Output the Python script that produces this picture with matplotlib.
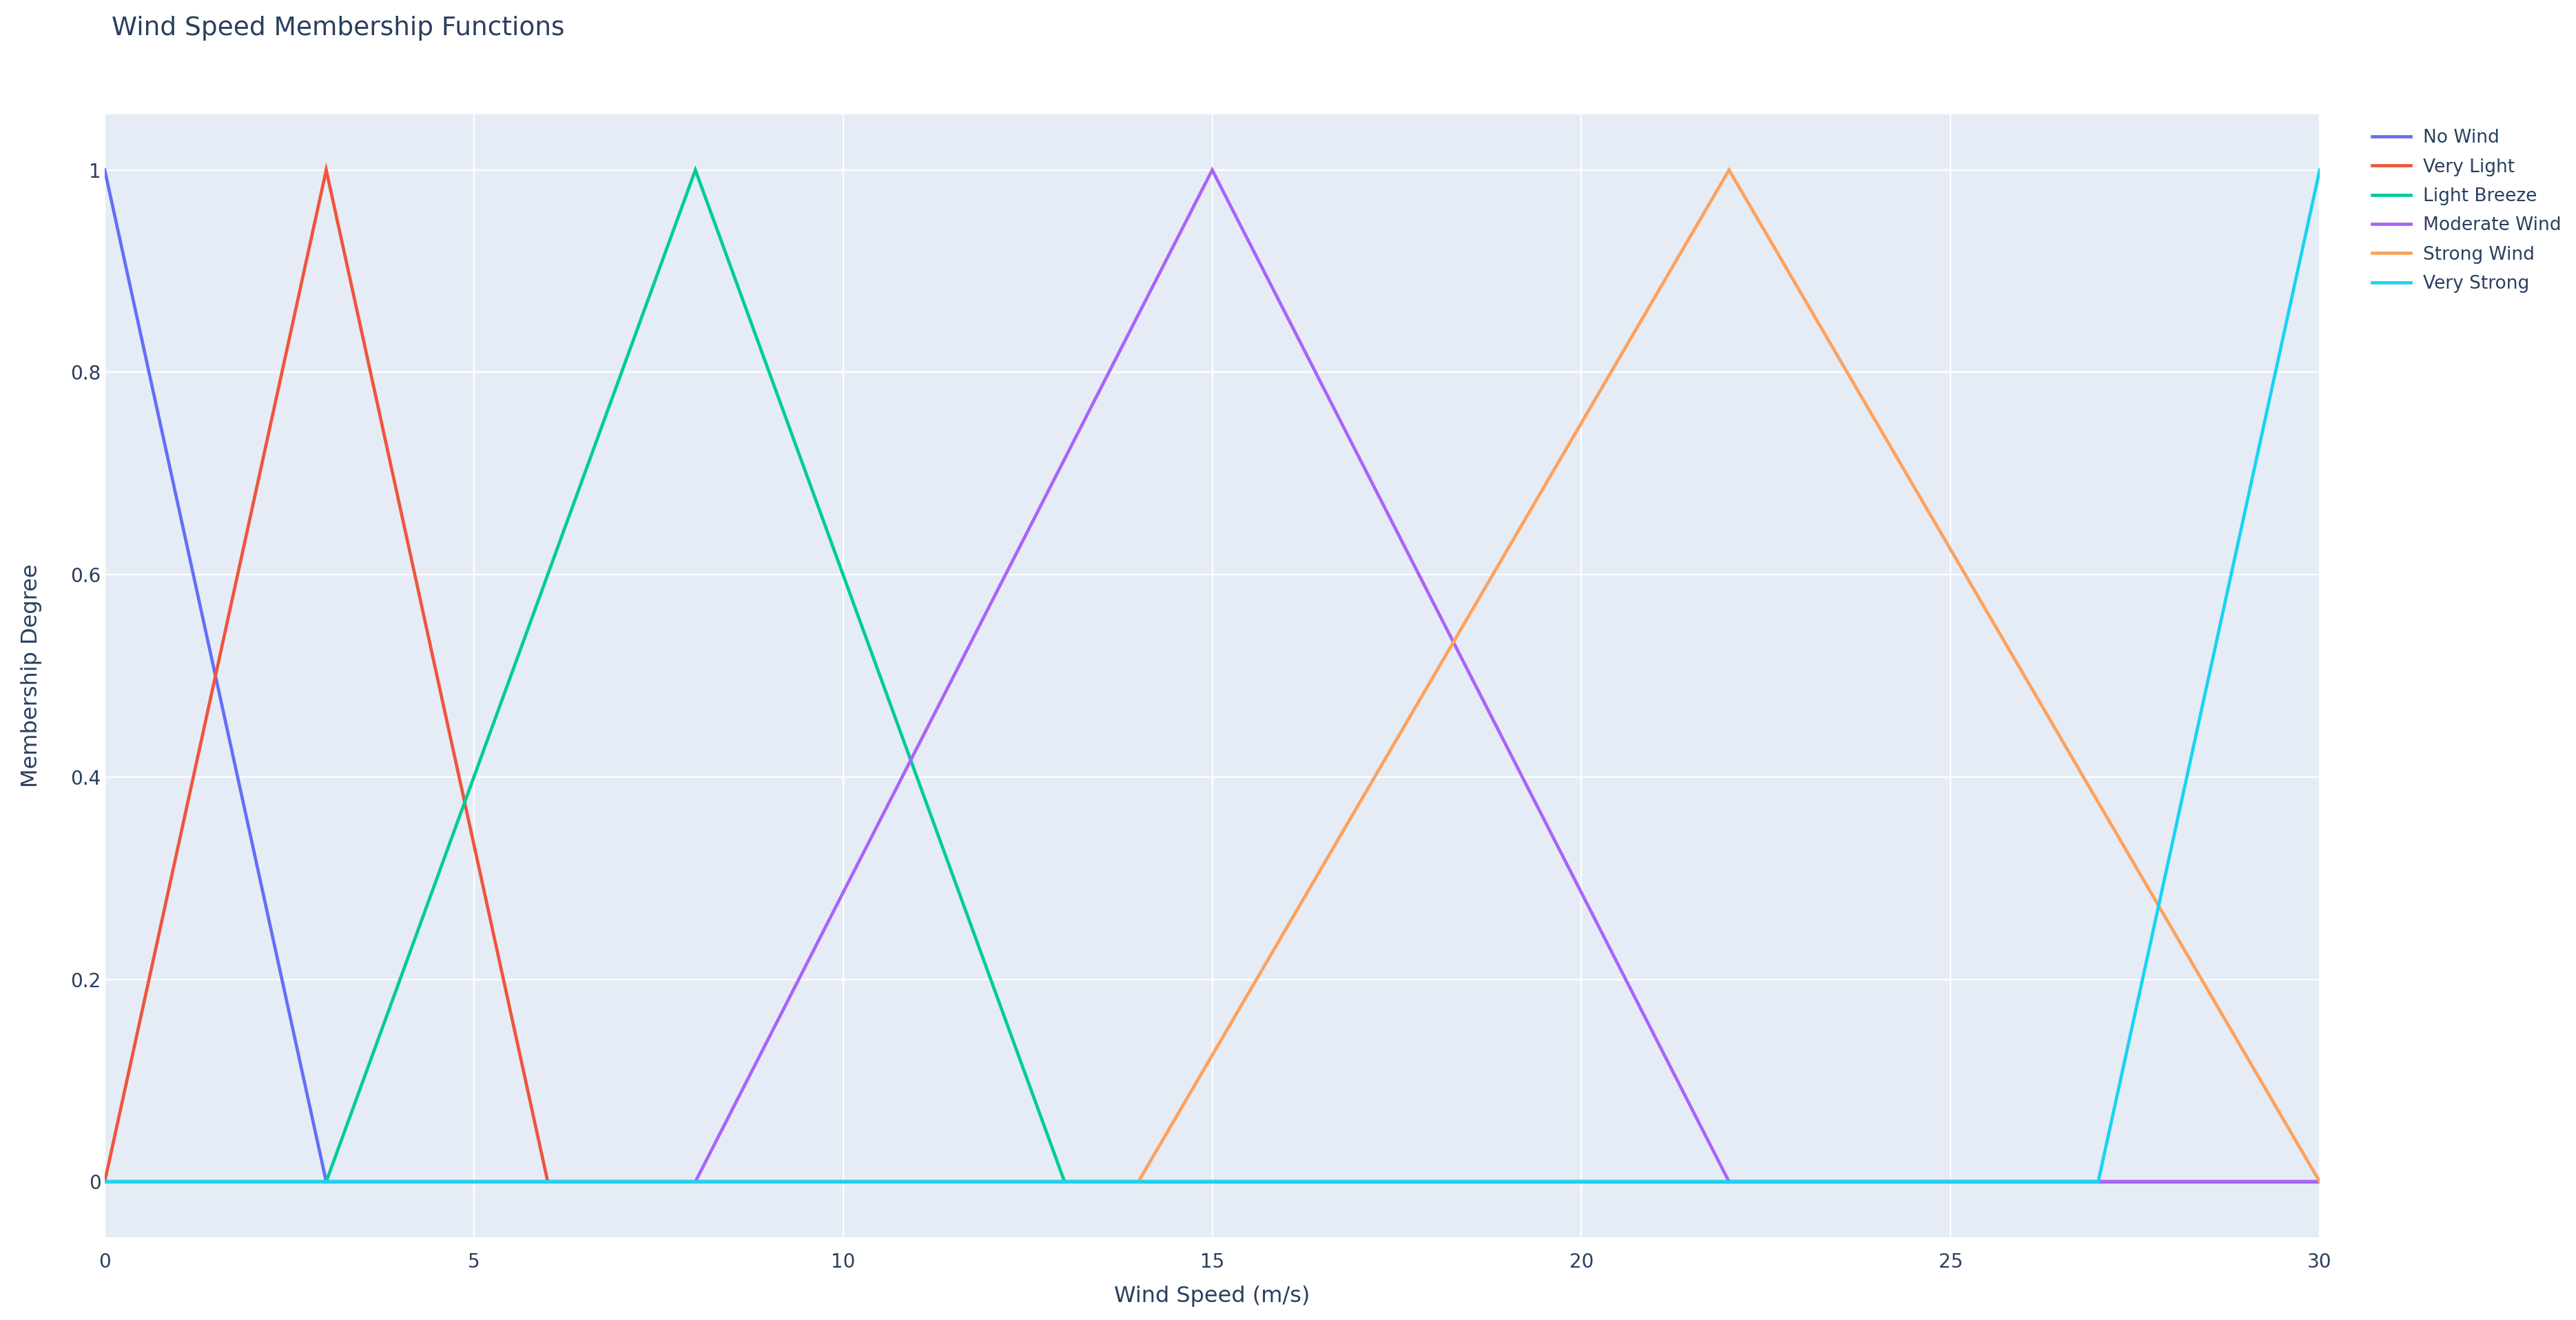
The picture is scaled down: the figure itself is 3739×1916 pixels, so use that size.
import numpy as np
import matplotlib
matplotlib.use('Agg')
import matplotlib.pyplot as plt

W, H = 3739, 1916

# membership functions: break points of each triangle
names = ['No Wind', 'Very Light', 'Light Breeze', 'Moderate Wind', 'Strong Wind', 'Very Strong']
xs = [
    [0, 3, 30],
    [0, 3, 6, 30],
    [0, 3, 8, 13, 30],
    [0, 8, 15, 22, 30],
    [0, 14, 22, 30],
    [0, 27, 30],
]
ys = [
    [1, 0, 0],
    [0, 1, 0, 0],
    [0, 0, 1, 0, 0],
    [0, 0, 1, 0, 0],
    [0, 0, 1, 0],
    [0, 0, 1],
]
colors = ['#636efa', '#EF553B', '#00cc96', '#ab63fa', '#FFA15A', '#19d3f3']
x_ticks = [0, 5, 10, 15, 20, 25, 30]
y_ticks = [0, 0.2, 0.4, 0.6, 0.8, 1]
y_labels = ['0', '0.2', '0.4', '0.6', '0.8', '1']

text_col = '#2a3f5f'
plt.rcParams['font.family'] = ['DejaVu Sans']

fig = plt.figure(figsize=(W / 100, H / 100), dpi=100)
left, right, top, bottom = 152, 3367, 166, 1796
ax = fig.add_axes([left / W, 1 - bottom / H, (right - left) / W, (bottom - top) / H])
ax.set_facecolor('#E5ECF6')
for s in ax.spines.values():
    s.set_visible(False)

for n, x, y, c in zip(names, xs, ys, colors):
    ax.plot(x, y, color=c, lw=3.4, label=n, solid_joinstyle='miter', zorder=3)

ax.set_xlim(0, 30)
ax.set_ylim(-0.055, 1.055)
ax.set_xticks(x_ticks)
ax.set_yticks(y_ticks)
ax.set_yticklabels(y_labels)
ax.grid(True, color='white', lw=1.6, zorder=0)
ax.set_axisbelow(True)
ax.tick_params(length=0, labelsize=20, colors=text_col)
ax.tick_params(axis='x', pad=16)
ax.tick_params(axis='y', pad=4)

ax.set_xlabel('Wind Speed (m/s)', fontsize=23, color=text_col, labelpad=14)
ax.set_ylabel('Membership Degree', fontsize=23, color=text_col, labelpad=30)

fig.text(162 / W, 1 - 41 / H, 'Wind Speed Membership Functions', fontsize=27,
         color=text_col, ha='left', va='center')

fig.legend(loc='upper left', bbox_to_anchor=(3430 / W, 1 - 174 / H), frameon=False,
           fontsize=19, handlelength=2.1, handletextpad=0.7, labelspacing=0.62,
           borderpad=0, labelcolor=text_col)

fig.savefig('out.png', dpi=100, facecolor='white')
